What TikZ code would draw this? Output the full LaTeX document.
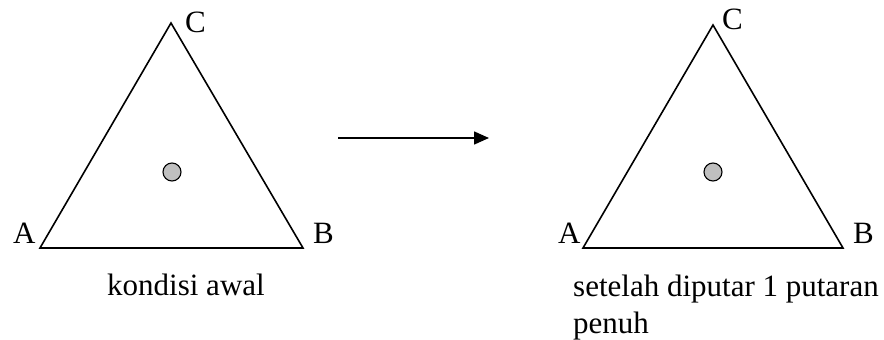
\documentclass[tikz,border=0pt]{standalone}
\usepackage{fontspec}
\setmainfont{Liberation Serif}
\usetikzlibrary{arrows.meta}
\begin{document}
\begin{tikzpicture}[x=1pt,y=-1pt,
  tri/.style={line width=1.6pt,line join=miter},
  dot/.style={circle,draw=black,line width=1.1pt,fill=black!25,minimum size=18pt,inner sep=0pt},
  lbl/.style={anchor=base west,inner sep=0pt,font=\fontsize{31}{38}\selectfont},
  arr/.style={line width=1.6pt,-{Triangle[length=15pt,width=13pt]}}]
\useasboundingbox (0,0) rectangle (884,340);
% left triangle
\coordinate (LA) at (40,248);
\coordinate (LB) at (303,248);
\coordinate (LC) at (171,23);
\draw[tri] (LA) -- (LB) -- (LC) -- cycle;
\node[dot] (Ldot) at (172,172) {};
\node[lbl] (LlC) at (185,32) {C};
\node[lbl] (LlA) at (13,243) {A};
\node[lbl] (LlB) at (313,243) {B};
\node[lbl] (Lcap) at (107,295) {kondisi awal};
% arrow
\coordinate (arrS) at (338,138);
\coordinate (arrE) at (489,138);
\draw[arr] (arrS) -- (arrE);
% right triangle
\coordinate (RA) at (583,248);
\coordinate (RB) at (843,248);
\coordinate (RC) at (713,25);
\draw[tri] (RA) -- (RB) -- (RC) -- cycle;
\node[dot] (Rdot) at (713,172) {};
\node[lbl] (RlC) at (722,30) {C};
\node[lbl] (RlA) at (558,243) {A};
\node[lbl] (RlB) at (853,243) {B};
\node[lbl] (Rcap1) at (573,296) {setelah diputar 1 putaran};
\node[lbl] (Rcap2) at (573,333) {penuh};
\end{tikzpicture}
\end{document}
